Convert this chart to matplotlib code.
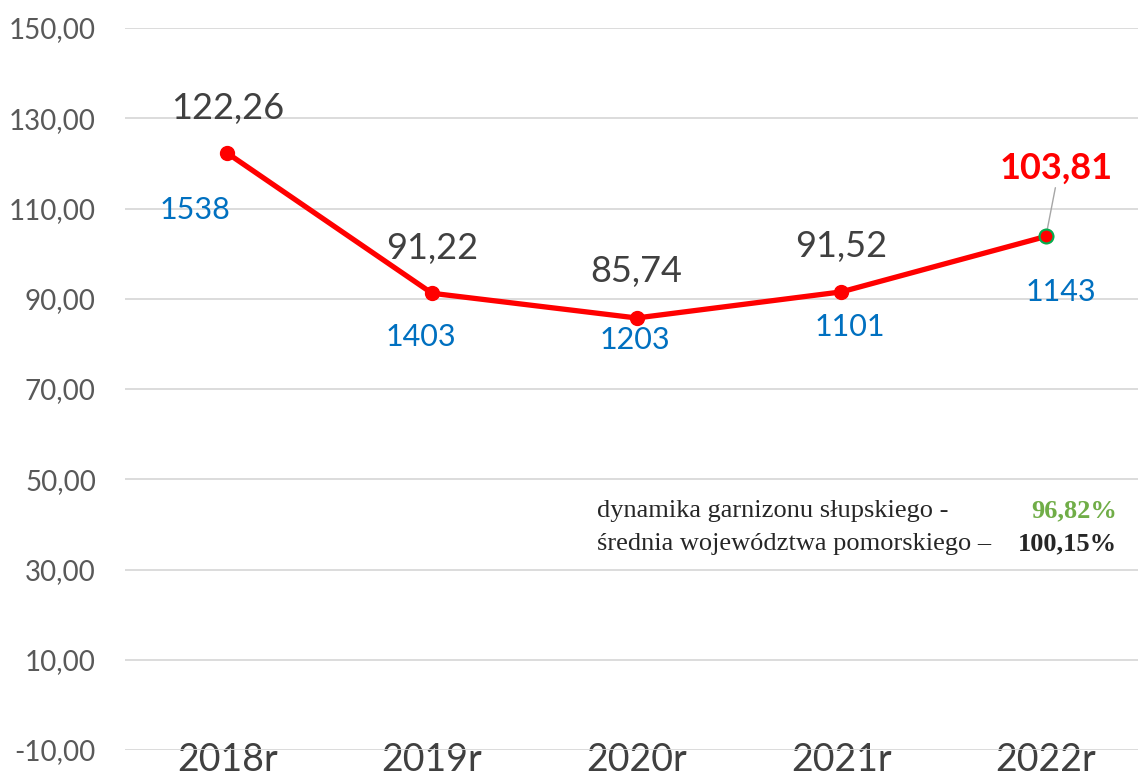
import matplotlib
matplotlib.use("Agg")
import matplotlib.pyplot as plt

categories = ["2018r", "2019r", "2020r", "2021r", "2022r"]
values = [122.26, 91.22, 85.74, 91.52, 103.81]
counts = [1538, 1403, 1203, 1101, 1143]
value_labels = ["122,26", "91,22", "85,74", "91,52", "103,81"]
yticks = [-10, 10, 30, 50, 70, 90, 110, 130, 150]
ytick_labels = ["-10,00", "10,00", "30,00", "50,00", "70,00", "90,00", "110,00", "130,00", "150,00"]
note_lines = ["dynamika garnizonu słupskiego -", "średnia województwa pomorskiego –"]
note_values = ["96,82%", "100,15%"]

# label offsets in pixels (dx, dy) - styling
val_off = [(0, 45), (0, 45), (0, 46), (0, 45), (10, 68)]
cnt_off = [(-32, -57), (-11, -44), (-2, -22), (9, -35), (15, -56)]

DPI = 100
fig = plt.figure(figsize=(11.38, 7.76), dpi=DPI)
ax = fig.add_axes([125/1138, 26/776, (1138-125)/1138, 722/776])
x = list(range(len(categories)))

ax.set_xlim(-0.5, 4.45)
ax.set_ylim(-10, 150)
ax.set_yticks(yticks)
ax.set_yticklabels(ytick_labels, fontfamily="Lato", fontsize=20, color="#595959")
ax.set_xticks(x)
ax.set_xticklabels(categories, fontfamily="Lato", fontsize=27, color="#404040")
ax.tick_params(axis="y", length=0, pad=21)
ax.tick_params(axis="x", length=0, pad=-6)
for s in ax.spines.values():
    s.set_visible(False)
ax.grid(axis="y", color="#D9D9D9", linewidth=1.3)
ax.set_axisbelow(True)

ax.plot(x, values, color="#FF0000", linewidth=3.8, marker="o", markersize=10,
        markerfacecolor="#FF0000", markeredgecolor="#FF0000", zorder=3)
ax.plot([x[-1]], [values[-1]], linestyle="none", marker="o", markersize=10,
        markerfacecolor="#FF0000", markeredgecolor="#00B050", markeredgewidth=1.5, zorder=4)

pt = 72 / DPI
for i in x:
    last = i == len(x) - 1
    dx, dy = val_off[i]
    if last:
        ax.annotate(value_labels[i], (x[i], values[i]), xytext=(dx*pt, dy*pt),
                    textcoords="offset points", ha="center", va="center",
                    fontfamily="Lato", fontsize=26, fontweight="bold", color="#FF0000",
                    arrowprops=dict(arrowstyle="-", color="#A6A6A6", lw=1,
                                    shrinkA=0, shrinkB=1,
                                    relpos=(0.5, 0.0)))
    else:
        ax.annotate(value_labels[i], (x[i], values[i]), xytext=(dx*pt, dy*pt),
                    textcoords="offset points", ha="center", va="center",
                    fontfamily="Lato", fontsize=26, color="#404040")
    cx, cy = cnt_off[i]
    ax.annotate(str(counts[i]), (x[i], values[i]), xytext=(cx*pt, cy*pt),
                textcoords="offset points", ha="center", va="center",
                fontfamily="Lato", fontsize=22, color="#0070C0")

# note box
fs = 19
fig.text(597/1138, 1 - 511/776, note_lines[0], fontfamily="Liberation Serif",
         fontsize=fs, color="#262626", ha="left", va="center")
fig.text(597/1138, 1 - 544/776, note_lines[1], fontfamily="Liberation Serif",
         fontsize=fs, color="#262626", ha="left", va="center")
fig.text(1117/1138, 1 - 511/776, note_values[0], fontfamily="Liberation Serif",
         fontsize=fs, fontweight="bold", color="#70AD47", ha="right", va="center")
fig.text(1117/1138, 1 - 544/776, note_values[1], fontfamily="Liberation Serif",
         fontsize=fs, fontweight="bold", color="#262626", ha="right", va="center")

fig.savefig("out.png", dpi=DPI)
